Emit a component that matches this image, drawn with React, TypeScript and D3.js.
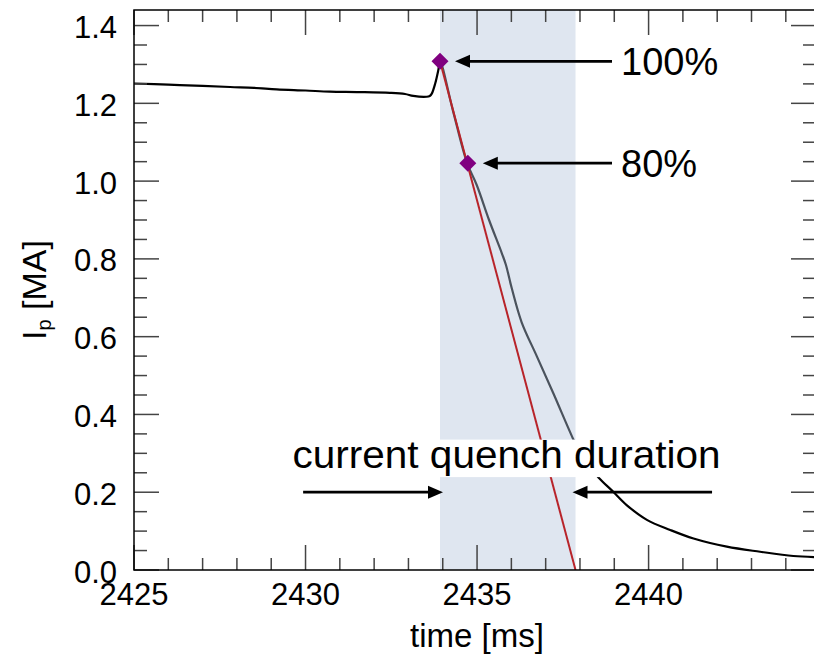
import React from "react";
import * as d3 from "d3";

// Plasma current trace around the disruption (time in ms, current in MA)
const timeMs = [
  2425.0, 2426.0, 2427.0, 2427.8, 2428.5, 2429.16, 2430.0, 2430.71, 2431.5, 2432.46,
  2432.9, 2433.14, 2433.53, 2433.62, 2433.68, 2433.78, 2433.87, 2433.92,
  2434.3, 2434.71, 2434.99, 2435.35, 2435.72, 2435.84, 2436.01, 2436.3, 2436.74,
  2437.22, 2437.76, 2437.95, 2438.2, 2438.54, 2438.97, 2439.36, 2439.95, 2440.63,
  2441.31, 2442.28, 2443.25, 2444.22, 2444.9,
];
const currentMA = [
  1.251, 1.248, 1.245, 1.242, 1.24, 1.236, 1.233, 1.23, 1.229, 1.227,
  1.224, 1.219, 1.217, 1.219, 1.225, 1.251, 1.285, 1.308,
  1.18, 1.046, 0.99, 0.9, 0.815, 0.785, 0.725, 0.637, 0.55,
  0.455, 0.345, 0.31, 0.276, 0.238, 0.201, 0.167, 0.129, 0.103,
  0.081, 0.06, 0.047, 0.036, 0.033,
];

// Current quench markers and the extrapolated linear fit
const markerTimes = [2433.92, 2434.73];
const markerValues = [1.308, 1.046];
const markerLabels = ["100%", "80%"];
const fitTimes = [2433.92, 2437.87];
const fitValues = [1.308, 0.0];
const quenchWindow = [2433.92, 2437.87];

const xTicksMajor = [2425, 2430, 2435, 2440];
const yTicksMajor = [0.0, 0.2, 0.4, 0.6, 0.8, 1.0, 1.2, 1.4];

const W = 814;
const H = 655;
const FONT = "'Liberation Sans', Arial, Helvetica, sans-serif";

export default function App() {
  const left = 134, right = 816, top = 10, bottom = 570;
  const x = d3.scaleLinear().domain([2425, 2444.88]).range([left, right]);
  const y = d3.scaleLinear().domain([0, 1.44]).range([bottom, top]);

  const pts: [number, number][] = timeMs.map((t, i) => [t, currentMA[i]]);
  const line = d3
    .line<[number, number]>()
    .x((d) => x(d[0]))
    .y((d) => y(d[1]))
    .curve(d3.curveCatmullRom.alpha(0.5));
  const fitLine = d3
    .line<[number, number]>()
    .x((d) => x(d[0]))
    .y((d) => y(d[1]));

  const bx0 = x(quenchWindow[0]);
  const bx1 = x(quenchWindow[1]);

  const xMinor = d3.range(2425, 2445, 1);
  const yMinor = d3.range(0, 1.4401, 0.05);

  const tickColor = "#444";

  const arrow = (x1: number, x2: number, yy: number, key: string) => {
    // x2 is the tip
    const dir = x2 > x1 ? 1 : -1;
    const headLen = 15;
    const headHalf = 6.5;
    return (
      <g key={key}>
        <line x1={x1} y1={yy} x2={x2 - dir * headLen + dir * 1} y2={yy} stroke="#000" strokeWidth={2.8} />
        <path
          d={`M${x2},${yy} L${x2 - dir * headLen},${yy - headHalf} L${x2 - dir * headLen},${yy + headHalf} Z`}
          fill="#000"
        />
      </g>
    );
  };

  const textW = 432;
  const textCx = 506.5;
  const textBase = y(0.262);

  return (
    <svg width={W} height={H} style={{ position: "absolute", left: 0, top: 0, background: "#fff" }}>
      <defs>
        <clipPath id="inWindow">
          <rect x={bx0} y={top} width={bx1 - bx0} height={bottom - top} />
        </clipPath>
        <clipPath id="outWindow">
          <rect x={left} y={top} width={bx0 - left} height={bottom - top} />
          <rect x={bx1} y={top} width={right - bx1} height={bottom - top} />
        </clipPath>
        <clipPath id="plotArea">
          <rect x={left} y={top} width={right - left} height={bottom - top} />
        </clipPath>
      </defs>

      {/* quench window */}
      <rect x={bx0} y={top} width={bx1 - bx0} height={bottom - top} fill="#dfe6f0" />

      <g clipPath="url(#plotArea)">
        <path d={line(pts) ?? ""} fill="none" stroke="#000" strokeWidth={2.2} clipPath="url(#outWindow)" />
        <path d={line(pts) ?? ""} fill="none" stroke="#4b535d" strokeWidth={2.2} clipPath="url(#inWindow)" />
        <path
          d={fitLine(fitTimes.map((t, i) => [t, fitValues[i]] as [number, number])) ?? ""}
          fill="none"
          stroke="#b8242a"
          strokeWidth={2}
        />
        {markerTimes.map((t, i) => {
          const cx = x(t), cy = y(markerValues[i]);
          const r = 8.5;
          return (
            <path
              key={"m" + i}
              d={`M${cx},${cy - r} L${cx + r},${cy} L${cx},${cy + r} L${cx - r},${cy} Z`}
              fill="#800080"
            />
          );
        })}
      </g>

      {/* marker annotations */}
      {markerTimes.map((t, i) => {
        const cy = y(markerValues[i]);
        return arrow(612, x(t) + 15, cy, "a" + i);
      })}
      {markerTimes.map((t, i) => (
        <text
          key={"l" + i}
          x={621}
          y={y(markerValues[i]) + 13.5}
          fontFamily={FONT}
          fontSize={38}
          fill="#000"
        >
          {markerLabels[i]}
        </text>
      ))}

      {/* quench duration label */}
      <rect x={textCx - textW / 2 - 2} y={textBase - 28.5} width={textW + 4} height={37.5} fill="#fff" />
      <text
        x={textCx}
        y={textBase}
        textAnchor="middle"
        fontFamily={FONT}
        fontSize={39.5}
        fill="#000"
        textLength={textW - 4}
        lengthAdjust="spacingAndGlyphs"
      >
        current quench duration
      </text>
      {arrow(x(2429.93), bx0 + 3, y(0.2), "cqL")}
      {arrow(x(2441.85), bx1 - 3, y(0.2), "cqR")}

      {/* ticks */}
      <g stroke={tickColor} strokeWidth={1.5}>
        {xMinor.map((t) => {
          const major = t % 5 === 0;
          const len = major ? 25 : 12;
          return (
            <g key={"xt" + t}>
              <line x1={x(t)} x2={x(t)} y1={bottom} y2={bottom - len} />
              <line x1={x(t)} x2={x(t)} y1={top} y2={top + len} />
            </g>
          );
        })}
        {yMinor.map((v, i) => {
          const major = i % 4 === 0;
          const len = major ? 25 : 13;
          return (
            <g key={"yt" + i}>
              <line x1={left} x2={left + len} y1={y(v)} y2={y(v)} />
              <line x1={right} x2={right - len} y1={y(v)} y2={y(v)} />
            </g>
          );
        })}
      </g>

      {/* frame */}
      <rect x={left} y={top} width={right - left} height={bottom - top} fill="none" stroke="#000" strokeWidth={1.5} />

      {/* tick labels */}
      {yTicksMajor.map((v) => (
        <text key={"yl" + v} x={117} y={y(v) + 12.5} textAnchor="end" fontFamily={FONT} fontSize={31} fill="#000">
          {v.toFixed(1)}
        </text>
      ))}
      {xTicksMajor.map((t) => (
        <text key={"xl" + t} x={x(t)} y={605} textAnchor="middle" fontFamily={FONT} fontSize={31} fill="#000">
          {t}
        </text>
      ))}

      {/* axis titles */}
      <text x={477} y={647} textAnchor="middle" fontFamily={FONT} fontSize={33} fill="#000">
        time [ms]
      </text>
      <text
        transform={`translate(46, ${(top + bottom) / 2}) rotate(-90)`}
        textAnchor="middle"
        fontFamily={FONT}
        fontSize={34}
        fill="#000"
      >
        I<tspan fontSize={20} dy={5}>p</tspan>
        <tspan dy={-5}> [MA]</tspan>
      </text>
    </svg>
  );
}
